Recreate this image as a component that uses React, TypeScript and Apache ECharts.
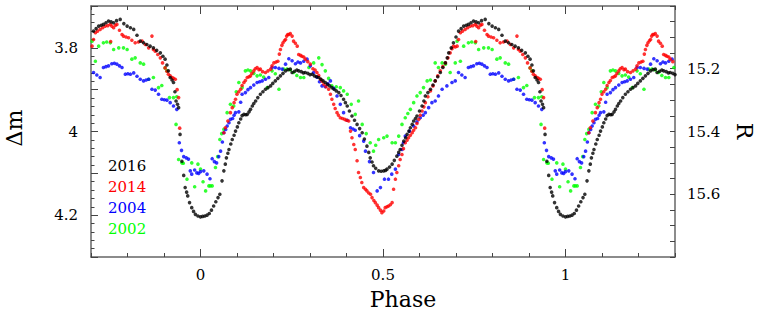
import React, { useEffect, useRef } from "react";
import * as echarts from "echarts";

const seriesNames = ["2016", "2014", "2004", "2002"];
const seriesColors = ["#000000", "#ff0000", "#0000ff", "#00ff00"];
const phaseLabels = [0, 0.5, 1];
const dmLabels = [3.8, 4, 4.2];
const rLabels = [15.2, 15.4, 15.6];

// [phase, Δm] over one cycle (0..1); folded copies extend to -0.3..1.3
const black2016: number[][] = [
  [0.000, 4.204], [0.006, 4.203], [0.012, 4.202], [0.018, 4.200], [0.024, 4.196], [0.030, 4.188],
  [0.036, 4.178], [0.042, 4.168], [0.048, 4.158], [0.053, 4.150], [0.059, 4.118], [0.064, 4.094],
  [0.068, 4.078], [0.071, 4.063], [0.075, 4.052], [0.078, 4.043], [0.083, 4.030], [0.087, 4.019],
  [0.092, 4.009], [0.096, 3.999], [0.101, 3.989], [0.105, 3.979], [0.110, 3.970], [0.114, 3.962],
  [0.119, 3.959], [0.124, 3.960], [0.128, 3.959], [0.133, 3.953], [0.137, 3.947], [0.142, 3.939],
  [0.146, 3.933], [0.151, 3.927], [0.157, 3.919], [0.164, 3.911], [0.171, 3.905], [0.178, 3.899],
  [0.185, 3.895], [0.192, 3.891], [0.198, 3.885], [0.205, 3.879], [0.212, 3.873], [0.219, 3.867],
  [0.226, 3.861], [0.233, 3.855], [0.240, 3.852], [0.246, 3.851], [0.251, 3.859], [0.258, 3.856],
  [0.264, 3.853], [0.269, 3.855], [0.276, 3.857], [0.282, 3.860], [0.287, 3.859], [0.294, 3.861],
  [0.300, 3.864], [0.306, 3.863], [0.312, 3.867], [0.318, 3.869], [0.324, 3.871], [0.330, 3.875],
  [0.336, 3.879], [0.342, 3.883], [0.348, 3.887], [0.354, 3.891], [0.360, 3.895], [0.366, 3.899],
  [0.372, 3.903], [0.379, 3.907], [0.385, 3.914], [0.392, 3.923], [0.397, 3.931], [0.402, 3.939],
  [0.408, 3.951], [0.415, 3.963], [0.422, 3.973], [0.429, 3.983], [0.436, 3.993], [0.443, 4.003],
  [0.449, 4.018], [0.456, 4.035], [0.461, 4.050], [0.465, 4.063], [0.470, 4.073], [0.474, 4.082],
  [0.480, 4.088], [0.488, 4.094], [0.495, 4.095], [0.502, 4.094], [0.507, 4.093], [0.511, 4.090],
  [0.518, 4.085], [0.525, 4.078], [0.531, 4.069], [0.538, 4.059], [0.543, 4.050], [0.547, 4.043],
  [0.552, 4.033], [0.557, 4.023], [0.562, 4.015], [0.566, 4.007], [0.571, 3.999], [0.575, 3.991],
  [0.580, 3.983], [0.584, 3.975], [0.589, 3.969], [0.593, 3.963], [0.600, 3.951], [0.607, 3.939],
  [0.612, 3.927], [0.616, 3.915], [0.623, 3.907], [0.630, 3.899], [0.637, 3.889], [0.643, 3.879],
  [0.650, 3.869], [0.657, 3.859], [0.664, 3.847], [0.671, 3.836], [0.676, 3.824], [0.680, 3.812],
  [0.687, 3.800], [0.693, 3.788], [0.700, 3.774], [0.707, 3.760], [0.714, 3.754], [0.721, 3.748],
  [0.728, 3.746], [0.734, 3.744], [0.741, 3.740], [0.748, 3.736], [0.755, 3.738], [0.762, 3.740],
  [0.770, 3.735], [0.780, 3.732], [0.790, 3.742], [0.799, 3.748], [0.808, 3.752], [0.817, 3.756],
  [0.826, 3.770], [0.835, 3.784], [0.844, 3.788], [0.853, 3.792], [0.862, 3.796], [0.871, 3.800],
  [0.880, 3.806], [0.890, 3.812], [0.897, 3.820], [0.903, 3.827], [0.908, 3.841], [0.912, 3.855],
  [0.917, 3.871], [0.922, 3.877], [0.926, 3.883], [0.930, 3.905], [0.933, 3.927], [0.937, 3.935],
  [0.940, 3.943], [0.944, 4.007], [0.949, 4.071], [0.954, 4.105], [0.958, 4.134], [0.962, 4.145],
  [0.965, 4.154], [0.970, 4.170], [0.976, 4.182], [0.981, 4.191], [0.986, 4.198], [0.993, 4.202],
];

const red2014: number[][] = [
  [0.064, 4.003], [0.068, 3.991], [0.075, 3.975], [0.082, 3.955], [0.087, 3.943], [0.092, 3.931],
  [0.096, 3.923], [0.100, 3.911], [0.105, 3.905], [0.110, 3.899], [0.114, 3.890], [0.119, 3.883],
  [0.123, 3.878], [0.128, 3.871], [0.133, 3.869], [0.137, 3.867], [0.141, 3.861], [0.146, 3.855],
  [0.150, 3.850], [0.155, 3.847], [0.160, 3.852], [0.164, 3.851], [0.170, 3.857], [0.178, 3.859],
  [0.185, 3.855], [0.192, 3.851], [0.196, 3.843], [0.201, 3.836], [0.207, 3.834], [0.212, 3.832],
  [0.216, 3.815], [0.219, 3.804], [0.223, 3.794], [0.226, 3.788], [0.230, 3.783], [0.233, 3.780],
  [0.236, 3.772], [0.239, 3.768], [0.242, 3.768], [0.246, 3.766], [0.251, 3.772], [0.255, 3.784],
  [0.260, 3.789], [0.265, 3.796], [0.269, 3.816], [0.274, 3.818], [0.278, 3.820], [0.283, 3.822],
  [0.287, 3.827], [0.294, 3.833], [0.301, 3.839], [0.308, 3.850], [0.314, 3.853], [0.319, 3.859],
  [0.324, 3.866], [0.329, 3.875], [0.333, 3.880], [0.338, 3.887], [0.344, 3.893], [0.351, 3.899],
  [0.356, 3.911], [0.360, 3.923], [0.365, 3.935], [0.369, 3.945], [0.374, 3.955], [0.378, 3.961],
  [0.383, 3.967], [0.389, 3.969], [0.395, 3.971], [0.400, 3.973], [0.406, 3.975], [0.411, 3.999],
  [0.415, 4.015], [0.420, 4.031], [0.424, 4.043], [0.429, 4.070], [0.433, 4.098], [0.438, 4.110],
  [0.442, 4.122], [0.447, 4.134], [0.452, 4.138], [0.456, 4.142], [0.461, 4.147], [0.466, 4.150],
  [0.470, 4.158], [0.475, 4.165], [0.479, 4.170], [0.484, 4.176], [0.488, 4.182], [0.493, 4.188],
  [0.497, 4.194], [0.502, 4.190], [0.506, 4.182], [0.511, 4.180], [0.515, 4.178], [0.520, 4.175],
  [0.525, 4.170], [0.529, 4.138], [0.534, 4.114], [0.538, 4.098], [0.543, 4.082], [0.547, 4.067],
  [0.552, 4.055], [0.556, 4.041], [0.561, 4.027], [0.566, 4.021], [0.570, 4.015], [0.575, 4.009],
  [0.580, 4.003], [0.584, 3.997], [0.589, 3.991], [0.593, 3.981], [0.598, 3.971], [0.602, 3.961],
  [0.607, 3.951], [0.612, 3.941], [0.616, 3.931], [0.623, 3.917], [0.630, 3.903], [0.637, 3.891],
  [0.643, 3.879], [0.650, 3.867], [0.657, 3.855], [0.664, 3.845], [0.671, 3.836], [0.678, 3.824],
  [0.684, 3.812], [0.689, 3.802], [0.693, 3.796], [0.698, 3.798], [0.703, 3.796], [0.707, 3.780],
  [0.712, 3.764], [0.718, 3.760], [0.725, 3.756], [0.732, 3.752], [0.739, 3.748], [0.746, 3.747],
  [0.754, 3.785], [0.753, 3.744], [0.757, 3.748], [0.762, 3.752], [0.767, 3.746], [0.771, 3.744],
  [0.778, 3.758], [0.785, 3.768], [0.789, 3.772], [0.796, 3.774], [0.803, 3.776], [0.812, 3.782],
  [0.821, 3.788], [0.830, 3.786], [0.840, 3.784], [0.849, 3.792], [0.858, 3.800], [0.867, 3.772],
  [0.871, 3.804], [0.876, 3.808], [0.883, 3.816], [0.890, 3.824], [0.896, 3.836], [0.903, 3.848],
  [0.908, 3.856], [0.912, 3.863], [0.917, 3.867], [0.922, 3.871], [0.926, 3.873], [0.931, 3.875],
  [0.936, 3.900], [0.940, 3.919], [0.943, 3.992],
];

const blue2004: number[][] = [
  [0.000, 4.096], [0.009, 4.094], [0.018, 4.102], [0.026, 4.113], [0.032, 4.065], [0.038, 4.072],
  [0.044, 4.075], [0.050, 4.060], [0.055, 4.047], [0.060, 4.025], [0.064, 4.003], [0.069, 3.995],
  [0.073, 3.987], [0.078, 3.979], [0.082, 3.971], [0.088, 3.969], [0.092, 3.961], [0.096, 3.955],
  [0.105, 3.953], [0.110, 3.930], [0.114, 3.911], [0.123, 3.907], [0.130, 3.900], [0.137, 3.895],
  [0.146, 3.889], [0.155, 3.883], [0.162, 3.881], [0.169, 3.879], [0.178, 3.875], [0.187, 3.871],
  [0.196, 3.847], [0.205, 3.847], [0.215, 3.849], [0.224, 3.851], [0.233, 3.839], [0.242, 3.826],
  [0.251, 3.831], [0.260, 3.838], [0.267, 3.834], [0.274, 3.836], [0.283, 3.832], [0.292, 3.827],
  [0.301, 3.843], [0.310, 3.859], [0.319, 3.870], [0.326, 3.881], [0.333, 3.891], [0.342, 3.893],
  [0.349, 3.886], [0.356, 3.879], [0.365, 3.897], [0.374, 3.915], [0.383, 3.935], [0.392, 3.955],
  [0.402, 3.973], [0.411, 3.991], [0.418, 3.994], [0.424, 3.997], [0.436, 4.010], [0.447, 4.023],
  [0.452, 4.047], [0.463, 4.072], [0.474, 4.098], [0.484, 4.142], [0.493, 4.134], [0.504, 4.114],
  [0.515, 4.114], [0.524, 4.102], [0.534, 4.090], [0.543, 4.055], [0.552, 4.043], [0.556, 4.027],
  [0.561, 4.011], [0.573, 3.999], [0.584, 3.987], [0.593, 3.977], [0.602, 3.967], [0.610, 3.961],
  [0.616, 3.955], [0.625, 3.943], [0.634, 3.931], [0.643, 3.927], [0.652, 3.915], [0.662, 3.899],
  [0.675, 3.891], [0.689, 3.883], [0.698, 3.879], [0.707, 3.859], [0.716, 3.865], [0.725, 3.871],
  [0.734, 3.847], [0.741, 3.845], [0.748, 3.843], [0.757, 3.838], [0.764, 3.837], [0.771, 3.839],
  [0.778, 3.843], [0.785, 3.847], [0.794, 3.863], [0.801, 3.862], [0.808, 3.863], [0.817, 3.860],
  [0.826, 3.868], [0.835, 3.875], [0.844, 3.879], [0.851, 3.877], [0.858, 3.875], [0.867, 3.899],
  [0.876, 3.901], [0.885, 3.911], [0.894, 3.923], [0.901, 3.924], [0.908, 3.925], [0.917, 3.931],
  [0.926, 3.939], [0.935, 3.947], [0.942, 4.027], [0.948, 4.045], [0.954, 4.060], [0.961, 4.063],
  [0.967, 4.066], [0.972, 4.094], [0.976, 4.102], [0.984, 4.092], [0.990, 4.099], [0.995, 4.100],
];

const green2002: number[][] = [
  [0.000, 4.090], [0.007, 4.120], [0.014, 4.142], [0.023, 4.130], [0.027, 4.130], [0.032, 4.130],
  [0.041, 4.086], [0.047, 4.060], [0.053, 4.019], [0.058, 4.005], [0.064, 3.995], [0.073, 3.955],
  [0.082, 3.935], [0.091, 3.939], [0.098, 3.905], [0.105, 3.883], [0.114, 3.895], [0.123, 3.855],
  [0.130, 3.853], [0.137, 3.855], [0.146, 3.861], [0.155, 3.867], [0.164, 3.865], [0.173, 3.870],
  [0.183, 3.895], [0.196, 3.855], [0.205, 3.862], [0.215, 3.899], [0.228, 3.851], [0.237, 3.851],
  [0.246, 3.853], [0.255, 3.859], [0.264, 3.866], [0.274, 3.871], [0.283, 3.871], [0.297, 3.847],
  [0.310, 3.836], [0.324, 3.824], [0.333, 3.840], [0.342, 3.855], [0.351, 3.873], [0.360, 3.891],
  [0.372, 3.893], [0.383, 3.895], [0.392, 3.903], [0.402, 3.911], [0.413, 3.935], [0.424, 3.959],
  [0.433, 3.927], [0.443, 3.983], [0.454, 4.005], [0.465, 4.027], [0.474, 4.047], [0.480, 4.033],
  [0.488, 4.019], [0.502, 4.015], [0.511, 4.011], [0.525, 4.027], [0.534, 4.027], [0.543, 4.011],
  [0.552, 3.983], [0.561, 3.967], [0.568, 3.957], [0.575, 3.947], [0.584, 3.931], [0.593, 3.915],
  [0.602, 3.907], [0.611, 3.895], [0.621, 3.879], [0.630, 3.877], [0.643, 3.836], [0.652, 3.847],
  [0.662, 3.836], [0.671, 3.839], [0.684, 3.859], [0.698, 3.836], [0.703, 3.784], [0.712, 3.832],
  [0.721, 3.796], [0.734, 3.788], [0.743, 3.786], [0.753, 3.788], [0.762, 3.804], [0.776, 3.800],
  [0.789, 3.800], [0.799, 3.804], [0.812, 3.827], [0.821, 3.824], [0.835, 3.836], [0.844, 3.839],
  [0.858, 3.875], [0.871, 3.871], [0.885, 3.895], [0.894, 3.890], [0.903, 3.848], [0.908, 3.855],
  [0.915, 3.919], [0.926, 3.919], [0.935, 3.917], [0.933, 3.983], [0.940, 4.067], [0.949, 4.075],
  [0.953, 4.076], [0.963, 4.114], [0.976, 4.075], [0.984, 4.132], [0.993, 4.078],
];

const PHASE_MIN = -0.3;
const PHASE_MAX = 1.3;

// phase folding: each measured point is shown at every phase it occupies in the window
function fold(base: number[][]): number[][] {
  const out: number[][] = [];
  for (const [p, v] of base) {
    out.push([p, v]);
    if (p - 1 >= PHASE_MIN) out.push([+(p - 1).toFixed(3), v]);
    if (p + 1 <= PHASE_MAX) out.push([+(p + 1).toFixed(3), v]);
  }
  return out;
}

const FONT = "DejaVu Serif";

export default function App() {
  const ref = useRef<HTMLDivElement>(null);
  useEffect(() => {
    if (!ref.current) return;
    const chart = echarts.init(ref.current, undefined, { renderer: "svg" });
    const frame = { show: true, onZero: false, lineStyle: { color: "#666", width: 1.5 } };
    const tickStyle = { color: "#444", width: 1 };
    const labelStyle = { fontFamily: FONT, fontSize: 15, color: "#000" };
    const gridRect = { left: 91, right: 88, top: 6, bottom: 58 };
    const xBase = {
      type: "value" as const,
      min: PHASE_MIN,
      max: PHASE_MAX,
      interval: 0.1,
      splitLine: { show: false },
    };
    const datasets = [black2016, red2014, blue2004, green2002];
    const order = [3, 2, 1, 0];
    chart.setOption({
      animation: false,
      grid: [gridRect, gridRect],
      xAxis: [
        {
          ...xBase,
          gridIndex: 0,
          position: "bottom",
          axisLine: frame,
          axisTick: { inside: true, length: 4, lineStyle: tickStyle },
          axisLabel: {
            ...labelStyle,
            margin: 10,
            customValues: phaseLabels,
            formatter: (v: number) => String(+v.toFixed(2)),
          },
        },
        {
          ...xBase,
          gridIndex: 0,
          position: "top",
          axisLine: frame,
          axisTick: { inside: true, length: 4, lineStyle: tickStyle },
          axisLabel: { show: false },
        },
        {
          ...xBase,
          gridIndex: 1,
          position: "bottom",
          axisLine: { show: false, onZero: false },
          axisTick: { inside: true, length: 8, lineStyle: tickStyle, customValues: phaseLabels },
          axisLabel: { show: false },
        },
        {
          ...xBase,
          gridIndex: 1,
          position: "top",
          axisLine: { show: false, onZero: false },
          axisTick: { inside: true, length: 8, lineStyle: tickStyle, customValues: phaseLabels },
          axisLabel: { show: false },
        },
      ],
      yAxis: [
        {
          type: "value",
          gridIndex: 0,
          position: "left",
          inverse: true,
          min: 3.7,
          max: 4.3,
          interval: 0.1,
          splitLine: { show: false },
          axisLine: frame,
          axisTick: { inside: true, length: 7, lineStyle: tickStyle },
          minorTick: { show: true, splitNumber: 5, length: 3.5, lineStyle: tickStyle },
          minorSplitLine: { show: false },
          axisLabel: {
            ...labelStyle,
            margin: 13,
            customValues: dmLabels,
            formatter: (v: number) => String(+v.toFixed(2)),
          },
        },
        {
          type: "value",
          gridIndex: 0,
          position: "right",
          inverse: true,
          min: 15.0,
          max: 15.8,
          interval: 0.05,
          splitLine: { show: false },
          axisLine: frame,
          axisTick: { inside: true, length: 5, lineStyle: tickStyle },
          axisLabel: {
            ...labelStyle,
            margin: 12,
            customValues: rLabels,
            formatter: (v: number) => v.toFixed(1),
          },
        },
        {
          type: "value",
          gridIndex: 1,
          min: 0,
          max: 1,
          show: false,
        },
      ],
      series: order.map((i) => ({
        type: "scatter",
        name: seriesNames[i],
        xAxisIndex: 0,
        yAxisIndex: 0,
        data: fold(datasets[i]),
        symbol: "circle",
        symbolSize: 3.6,
        itemStyle: { color: seriesColors[i] },
      })),
      graphic: [
        ...seriesNames.map((name, i) => ({
          type: "text",
          left: 108,
          top: 158 + i * 21.3,
          style: { text: name, fill: seriesColors[i], font: `15px ${FONT}` },
        })),
        {
          type: "text",
          x: 403,
          y: 299,
          style: { text: "Phase", fill: "#000", font: `22px ${FONT}`, align: "center", verticalAlign: "middle" },
        },
        {
          type: "text",
          x: 14,
          y: 128,
          rotation: Math.PI / 2,
          style: { text: "Δm", fill: "#000", font: `22px ${FONT}`, align: "center", verticalAlign: "middle" },
        },
        {
          type: "text",
          x: 744,
          y: 131,
          rotation: -Math.PI / 2,
          style: { text: "R", fill: "#000", font: `22px ${FONT}`, align: "center", verticalAlign: "middle" },
        },
      ],
    });
    return () => chart.dispose();
  }, []);
  return (
    <div
      ref={ref}
      style={{ position: "fixed", left: 0, top: 0, width: 763, height: 315, background: "#fff" }}
    />
  );
}
